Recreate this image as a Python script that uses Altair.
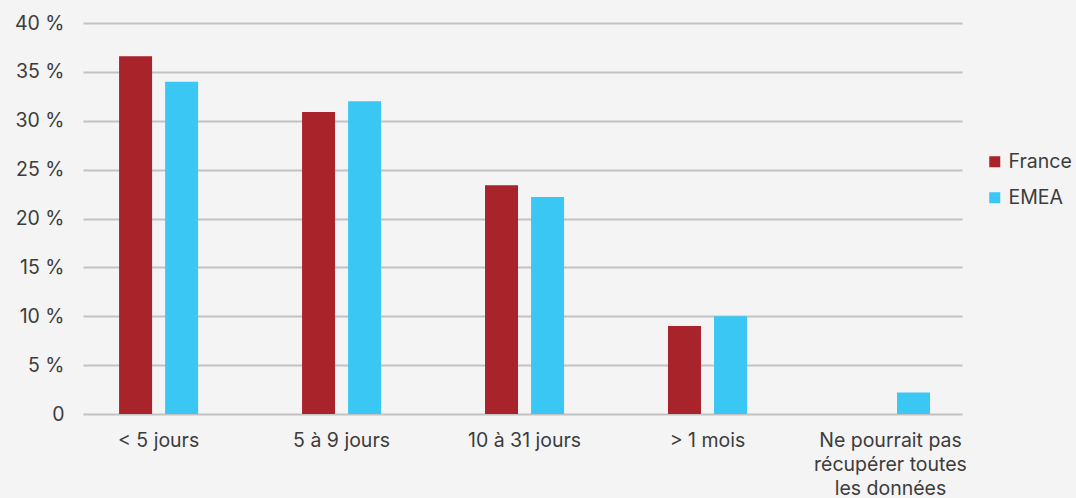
import altair as alt
import pandas as pd

categories = ["< 5 jours", "5 à 9 jours", "10 à 31 jours", "> 1 mois",
              "Ne pourrait pas|récupérer toutes|les données"]
series = ["France", "EMEA"]
france = [36.6, 30.9, 23.4, 9.0, None]
emea = [34.0, 32.0, 22.2, 10.0, 2.2]
colors = ["#A8232A", "#3AC7F3"]
y_ticks = [0, 5, 10, 15, 20, 25, 30, 35, 40]

rows = []
for c, f, e in zip(categories, france, emea):
    if f is not None:
        rows.append({"cat": c, "serie": "France", "val": f})
    if e is not None:
        rows.append({"cat": c, "serie": "EMEA", "val": e})
df = pd.DataFrame(rows)

FONT = "Inter"
TXT = "#3C3C3C"
FS = 19.5

chart = alt.Chart(df).mark_bar().encode(
    x=alt.X("cat:N", sort=categories,
            scale=alt.Scale(paddingInner=0.568, paddingOuter=0.186, align=0.53),
            axis=alt.Axis(title=None, labelAngle=0, domain=False, ticks=False,
                          labelPadding=17, labelFontSize=FS, labelFont=FONT,
                          labelColor=TXT, labelLineHeight=24,
                          labelExpr="split(datum.label, '|')")),
    xOffset=alt.XOffset("serie:N", sort=series,
                        scale=alt.Scale(paddingInner=0.283, paddingOuter=0)),
    y=alt.Y("val:Q", scale=alt.Scale(domain=[0, 40]),
            axis=alt.Axis(title=None, values=y_ticks, domain=False, ticks=False,
                          labelPadding=19, labelFontSize=FS, labelFont=FONT,
                          labelColor=TXT, gridColor="#C2C2C2", gridWidth=2,
                          labelExpr="datum.value == 0 ? '0' : datum.value + ' %'")),
    color=alt.Color("serie:N", sort=series,
                    scale=alt.Scale(domain=series, range=colors),
                    legend=alt.Legend(title=None, orient="none", legendX=902, legendY=129,
                                      symbolType="square", symbolSize=121,
                                      symbolStrokeWidth=0, labelFontSize=FS,
                                      labelFont=FONT, labelColor=TXT,
                                      rowPadding=15, labelOffset=4, padding=0)),
).properties(
    width=879, height=391,
    autosize=alt.AutoSizeParams(type="none"),
    padding={"left": 83, "top": 23, "right": 114, "bottom": 84},
    background="#F4F4F4",
).configure_view(stroke=None)

chart.save("out.html", embed_options={"renderer": "svg", "actions": False})
